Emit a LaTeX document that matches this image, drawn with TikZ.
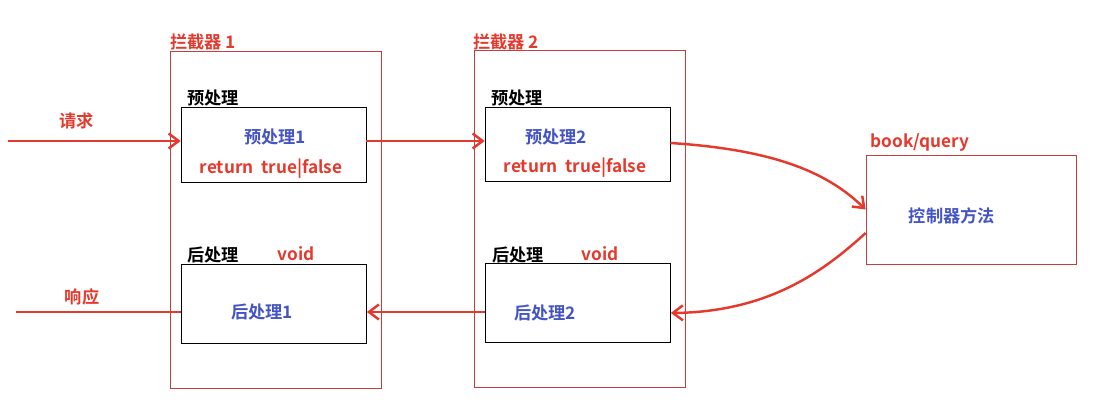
\documentclass[tikz,border=0pt]{standalone}
\usepackage{fontspec}
\setmainfont{Noto Sans CJK SC}[BoldFont={Noto Sans CJK SC Bold}]
\usetikzlibrary{arrows.meta}
\definecolor{lred}{RGB}{229,57,45}
\definecolor{bred}{RGB}{196,62,58}
\definecolor{tblue}{RGB}{68,84,196}
\tikzstyle{stage} = [draw=bred, minimum width=4.22cm, minimum height=6.74cm, inner sep=0pt]
\tikzstyle{part} = [draw=black, minimum width=3.7cm, inner sep=0pt]
\tikzstyle{label} = [font=\bfseries\fontsize{9.8}{11}\selectfont, inner sep=0pt]
\tikzstyle{arrow} = [lred, line width=1.4pt, -{Straight Barb[length=2mm, width=3mm]}]

\begin{document}
\begin{tikzpicture}[x={(0.02cm,0)}, y={(0,-0.02cm)}]
	    \useasboundingbox (0,0) rectangle (1110,412);
	    % interceptors
	    \node[stage] (ic1) at (275.5,219.5) {};
	    \node[stage] (ic2) at (579.5,219) {};
	    \node[label, text=lred, anchor=south west] (ic1t) at (170,50) {拦截器 1};
	    \node[label, text=lred, anchor=south west] (ic2t) at (473,50) {拦截器 2};

	    % pre handlers
	    \node[part, minimum height=1.5cm] (pre1) at (273.5,144.5) {};
	    \node[part, minimum height=1.48cm] (pre2) at (577.5,144) {};
	    \node[label, anchor=south west] (pre1t) at (187,106) {预处理};
	    \node[label, anchor=south west] (pre2t) at (491,106) {预处理};
	    \node[label, text=tblue] (pre1a) at (275,137) {预处理1};
	    \node[label, text=tblue] (pre2a) at (556,137) {预处理2};
	    \node[label, text=lred] (pre1b) at (271,169) {return\ \ true|false};
	    \node[label, text=lred] (pre2b) at (575,168) {return\ \ true|false};

	    % post handlers
	    \node[part, minimum height=1.58cm] (post1) at (274,303.5) {};
	    \node[part, minimum height=1.58cm] (post2) at (578,302.5) {};
	    \node[label, anchor=south west] (post1t) at (187,263) {后处理};
	    \node[label, anchor=south west] (post2t) at (492,263) {后处理};
	    \node[label, text=lred] (void1) at (296,254) {void};
	    \node[label, text=lred] (void2) at (600,254) {void};
	    \node[label, text=tblue] (post1a) at (262,312) {后处理1};
	    \node[label, text=tblue] (post2a) at (545,313) {后处理2};

	    % controller
	    \node[draw=bred, minimum width=4.2cm, minimum height=2.18cm, inner sep=0pt] (ctrl) at (971,209.5) {};
	    \node[label, text=lred] (ctrlt) at (920,142) {book/query};
	    \node[label, text=tblue] (ctrla) at (952,216) {控制器方法};

	    % flow
	    \coordinate (req) at (8,141);
	    \coordinate (resp) at (16,312);
	    \draw[arrow] (req) -- (pre1.west |- req) node[label, midway, above=6pt, text=lred, xshift=-10pt] (reqt) {请求};
	    \draw[arrow] (pre1.east |- req) -- (pre2.west |- req);
	    \draw[arrow] (pre2.east |- 0,143) .. controls (780,150) and (830,175) .. (ctrl.west);
	    \draw[arrow] (ctrl.west |- 0,233) .. controls (825,270) and (770,312) .. (post2.east |- 0,313);
	    \draw[arrow] (post2.west |- resp) -- (post1.east |- resp);
	    \draw[lred, line width=1.4pt] (post1.west |- resp) -- (resp) node[label, pos=0.6, above=3pt, text=lred] (respt) {响应};
	\end{tikzpicture}
\end{document}
